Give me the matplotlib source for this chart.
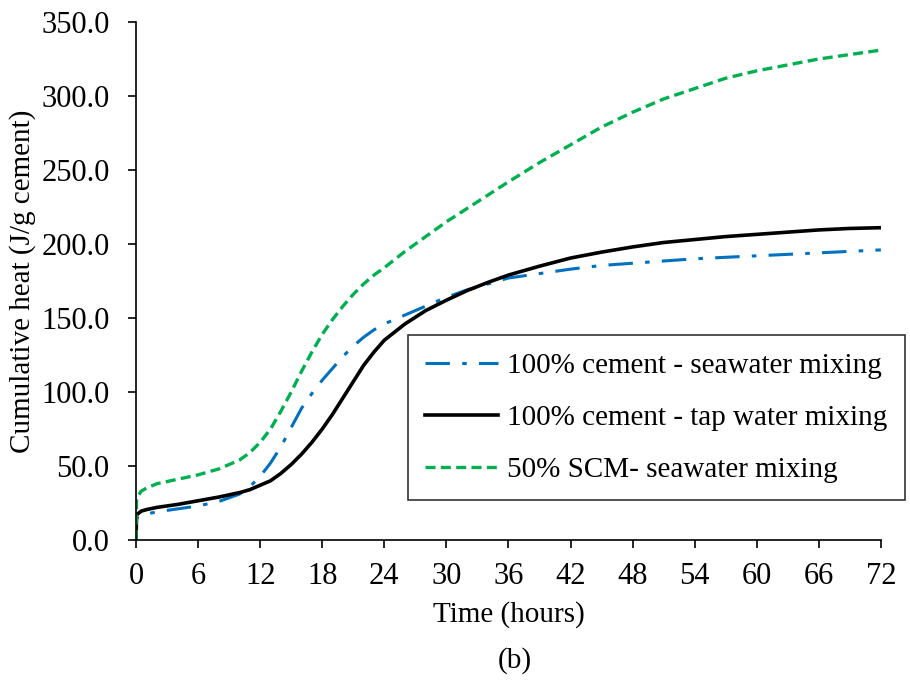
import numpy as np
import matplotlib.pyplot as plt

plt.rcParams['font.family'] = ['Liberation Serif', 'DejaVu Serif']

# cumulative heat of hydration, J/g cement
hours = [0, 0.05, 0.5, 1, 2, 4, 6, 8, 10, 11, 12, 13, 14, 15, 16, 17, 18, 19, 20, 21,
         22, 23, 24, 26, 28, 30, 32, 34, 36, 39, 42, 45, 48, 51, 54, 57, 60, 63, 66, 69, 72]

seawater = [0, 15, 16.5, 17.5, 19, 21, 23, 26, 31, 36, 43, 52, 63, 76, 89, 99, 108, 116, 124, 131,
            137, 142, 146, 152, 158, 164, 169, 173, 177, 180, 183, 185.5, 187, 188.5, 190, 191, 192, 193, 194, 195, 196]

tapwater = [0, 17, 19.5, 20.5, 22, 24, 26.5, 29, 32, 34, 37, 40, 45, 51, 58, 66, 75, 85, 96, 107,
            118, 127, 135, 146, 155, 162, 168.5, 174, 179, 185, 190.5, 194.5, 198, 201, 203, 205, 206.5, 208, 209.5, 210.5, 211]

scm = [0, 28, 33, 35, 38, 41, 44, 48, 54, 59, 66, 75, 87, 100, 114, 127, 139, 149, 158, 166,
       173, 179, 184, 195, 205, 215, 224, 233, 242, 255, 267, 279, 289, 298, 305, 312, 317, 321, 325, 328, 331]

fig = plt.figure(figsize=(9.1, 6.87), dpi=100)
ax = fig.add_axes([0.1495, 0.214, 0.8185, 0.754])

ax.plot(hours, seawater, color='#0070C0', lw=2.2, dashes=(8, 4, 1.5, 4),
        label='100% cement - seawater mixing')
ax.plot(hours, tapwater, color='black', lw=2.6,
        label='100% cement - tap water mixing')
ax.plot(hours, scm, color='#00B050', lw=2.4, dashes=(3, 1.6),
        label='50% SCM- seawater mixing')

ax.set_xlim(0, 72)
ax.set_ylim(0, 350)
ax.set_xticks(np.arange(0, 73, 6))
ax.set_yticks(np.arange(0, 351, 50))
ax.set_yticklabels([f'{v:.1f}' for v in np.arange(0, 351, 50)])
ax.tick_params(labelsize=22, direction='out', length=6, width=1.2)
ax.tick_params(axis='x', pad=10)
ax.tick_params(axis='y', pad=13)
for side in ['top', 'right']:
    ax.spines[side].set_visible(False)
for side in ['left', 'bottom']:
    ax.spines[side].set_linewidth(1.2)

ax.set_xlabel('Time (hours)', fontsize=21, labelpad=7)
ax.set_ylabel('Cumulative heat (J/g cement)', fontsize=21, labelpad=4)

leg = ax.legend(loc='upper left', bbox_to_anchor=(0.365, 0.396), fontsize=21,
                frameon=True, fancybox=False, edgecolor='black', handlelength=2.5,
                handletextpad=0.3, labelspacing=0.88, borderpad=0.6, borderaxespad=0)
leg.get_frame().set_linewidth(1.2)
leg.set_clip_on(False)

fig.text(0.566, 0.039, '(b)', fontsize=21, ha='center', va='center')

fig.savefig('out.png', dpi=100)
